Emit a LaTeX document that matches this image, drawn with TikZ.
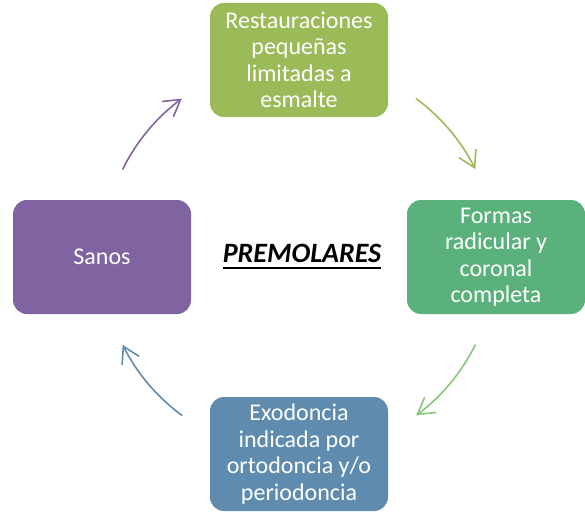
\documentclass[tikz,border=0pt]{standalone}
\usepackage{fontspec}
\setmainfont{Carlito}
\usetikzlibrary{positioning,arrows.meta}

\definecolor{olivegreen}{HTML}{9BBB59}
\definecolor{leafgreen}{HTML}{5BB17B}
\definecolor{paleleaf}{HTML}{86C57A}
\definecolor{steelblue}{HTML}{5F8CAE}
\definecolor{lavender}{HTML}{8064A2}

\newcommand\ulword[1]{\setbox0\hbox{#1}\rlap{\raisebox{-6.5pt}{\rule{\wd0}{1.8pt}}}\box0}

\begin{document}
\begin{tikzpicture}[
  x=1pt, y=1pt,
  stage/.style={rounded corners=14pt, minimum width=178pt, minimum height=114pt,
    align=center, text=white, inner sep=0pt,
    font=\fontsize{24}{26.5}\selectfont},
  loop/.style={line width=1.6pt, line cap=round, line join=round,
    -{Straight Barb[length=16pt,width=19pt]}}
]
\useasboundingbox (0,0) rectangle (585,512);

% ======================================================
% =============== STAGES ===============================
% ======================================================
\coordinate (hub) at (299,255);

\node (top)    [stage, fill=olivegreen] at (299,452) {Restauraciones\\pequeñas\\limitadas a\\esmalte};
\node (right)  [stage, fill=leafgreen]  at (496,255) {Formas\\radicular y\\coronal\\completa};
\node (bottom) [stage, fill=steelblue]  at (299,58)  {Exodoncia\\indicada por\\ortodoncia y/o\\periodoncia};
\node (left)   [stage, fill=lavender]   at (102,255) {Sanos};

% title
\node (title) [anchor=base, font=\fontsize{28}{31}\selectfont\bfseries\itshape]
  at (302,250) {\ulword{PREMOLARES}};

% ======================================================
% =============== CYCLE ARROWS =========================
% ======================================================
\path (hub) ++(53.5:197)  coordinate (a1);
\path (hub) ++(-26.5:197) coordinate (a2);
\path (hub) ++(233.5:197) coordinate (a3);
\path (hub) ++(153.5:197) coordinate (a4);

\draw[loop, olivegreen] (a1) arc[start angle=53.5,  end angle=26.5,  radius=197];
\draw[loop, paleleaf]   (a2) arc[start angle=-26.5, end angle=-53.5, radius=197];
\draw[loop, steelblue]  (a3) arc[start angle=233.5, end angle=206.5, radius=197];
\draw[loop, lavender]   (a4) arc[start angle=153.5, end angle=126.5, radius=197];

\end{tikzpicture}
\end{document}
